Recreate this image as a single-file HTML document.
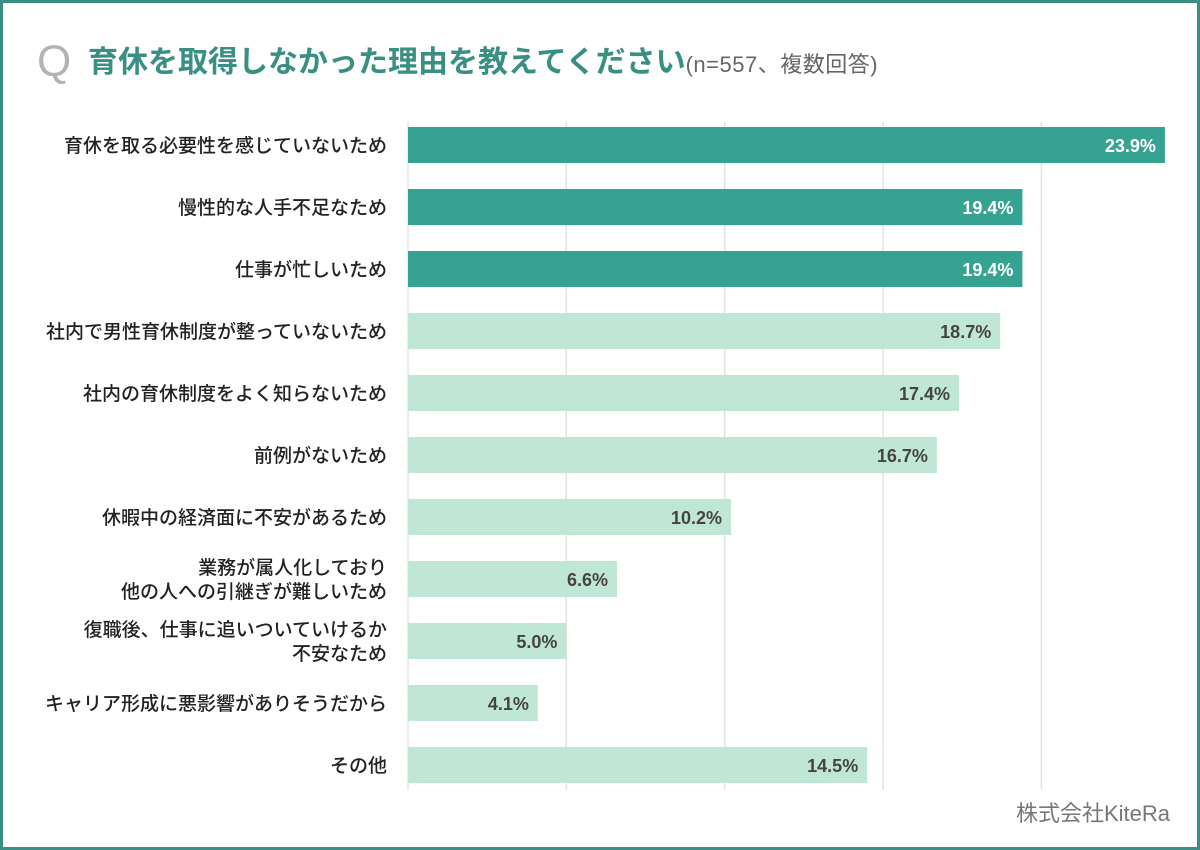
<!DOCTYPE html>
<html><head><meta charset="utf-8"><style>
body{margin:0;width:1200px;height:850px;overflow:hidden;background:#fff;font-family:"Liberation Sans","Noto Sans CJK JP",sans-serif}
#frame{position:absolute;left:0;top:0;width:1194px;height:844px;border:3px solid #3a8f83;background:#fff}
</style></head><body>
<div id="frame"></div>
<svg id="chart" width="1200" height="850" style="position:absolute;left:0;top:0">
<text x="37" y="76" font-size="44" fill="#b3b3b3" font-family="Liberation Sans, sans-serif">Q</text>
<text x="88" y="72" font-size="30" font-weight="bold" fill="#3a8f83">育休を取得しなかった理由を教えてください<tspan font-size="22" font-weight="normal" fill="#666" letter-spacing="0.5">(n=557、複数回答)</tspan></text>
<text x="1170" y="821" font-size="22" fill="#777" text-anchor="end">株式会社KiteRa</text>
<g id="grid"></g><g id="bars"></g>
</svg>
<script>
const categories=[["育休を取る必要性を感じていないため"],["慢性的な人手不足なため"],["仕事が忙しいため"],["社内で男性育休制度が整っていないため"],["社内の育休制度をよく知らないため"],["前例がないため"],["休暇中の経済面に不安があるため"],["業務が属人化しており","他の人への引継ぎが難しいため"],["復職後、仕事に追いついていけるか","不安なため"],["キャリア形成に悪影響がありそうだから"],["その他"]];
const values=[23.9,19.4,19.4,18.7,17.4,16.7,10.2,6.6,5.0,4.1,14.5];
const highlight=[true,true,true,false,false,false,false,false,false,false,false];
const gridTicks=[0,5,10,15,20];
const ns="http://www.w3.org/2000/svg";
const x0=408,pxPer=31.67,top0=127,step=62,bh=36;
const xs=v=>x0+v*pxPer;
const grid=document.getElementById('grid'),bars=document.getElementById('bars');
gridTicks.forEach(t=>{const l=document.createElementNS(ns,'line');


l.setAttribute('x1',xs(t));l.setAttribute('x2',xs(t));l.setAttribute('y1',122);l.setAttribute('y2',790);l.setAttribute('stroke','#e3e3e3');l.setAttribute('stroke-width','1.5');grid.appendChild(l);});
values.forEach((v,i)=>{const y=top0+i*step;
const r=document.createElementNS(ns,'rect');


r.setAttribute('x',x0);r.setAttribute('y',y);r.setAttribute('width',xs(v)-x0);r.setAttribute('height',bh);r.setAttribute('fill',highlight[i]?'#36a392':'#c0e6d6');bars.appendChild(r);
const t=document.createElementNS(ns,'text');


t.setAttribute('x',xs(v)-9);t.setAttribute('y',y+25);t.setAttribute('text-anchor','end');t.setAttribute('font-size','18');t.setAttribute('font-weight','bold');t.setAttribute('fill',highlight[i]?'#fff':'#444');t.textContent=v.toFixed(1)+'%';bars.appendChild(t);
const lab=categories[i];
lab.forEach((s,j)=>{const c=document.createElementNS(ns,'text');


const cy=y+bh/2+7+(j-(lab.length-1)/2)*24;
c.setAttribute('x',387);c.setAttribute('y',cy);c.setAttribute('text-anchor','end');c.setAttribute('font-size','19');c.setAttribute('font-weight','500');c.setAttribute('fill','#222');c.textContent=s;bars.appendChild(c);});
});
</script>
</body></html>
